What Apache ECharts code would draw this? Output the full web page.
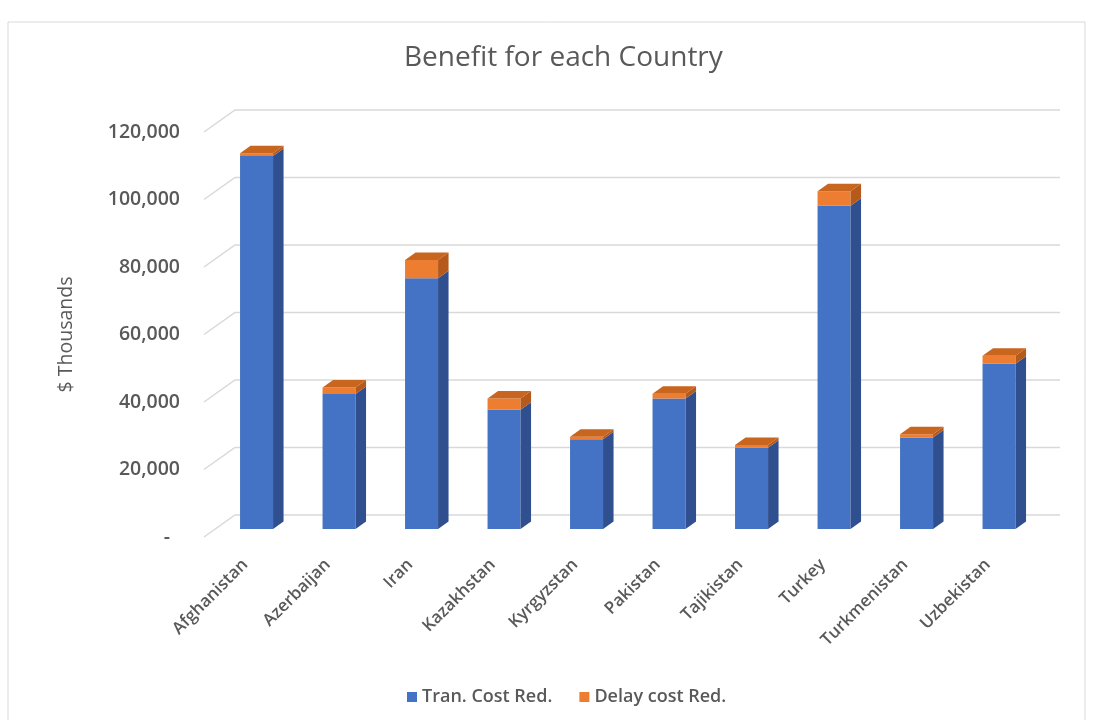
<!DOCTYPE html>
<html>
<head>
<meta charset="utf-8">
<script src="https://cdn.jsdelivr.net/npm/echarts@6/dist/echarts.min.js"></script>
<style>
html,body{margin:0;padding:0;background:#fff;}
#chart{width:1093px;height:720px;}
</style>
</head>
<body>
<div id="chart"></div>
<script>
// ---- Data (values in $ thousands) ----
const countries = ['Afghanistan','Azerbaijan','Iran','Kazakhstan','Kyrgyzstan','Pakistan','Tajikistan','Turkey','Turkmenistan','Uzbekistan'];
const tranCostRed = [110500, 40000, 74300, 35300, 26600, 38700, 24100, 95800, 27100, 49000];
const delayCostRed = [800, 1900, 5400, 3400, 700, 1400, 800, 4300, 1000, 2300];
const yTicks = [0, 20000, 40000, 60000, 80000, 100000, 120000];

// ---- 3D look (pixel offsets) ----
const WALL_DX = 31, WALL_DY = -22;     // front of floor -> back wall
const BAR_OX = 11.3, BAR_OY = -8;      // front of floor -> bar front face
const BAR_DX = 10.5, BAR_DY = -7.5;    // bar depth
const FONT = '"Open Sans", "Noto Sans", sans-serif';
const TXT = '#595959';

const chart = echarts.init(document.getElementById('chart'));

function gridRender(params, api) {
  const cs = params.coordSys;
  const v = yTicks[params.dataIndex];
  const y = api.coord([0, v])[1];
  return {
    type: 'polyline',
    shape: { points: [[cs.x, y], [cs.x + WALL_DX, y + WALL_DY], [cs.x + cs.width + WALL_DX, y + WALL_DY]] },
    style: { stroke: '#d9d9d9', lineWidth: 1.5, fill: null },
    silent: true
  };
}

function barRender(part) {
  return function (params, api) {
    const i = params.dataIndex;
    const base = api.coord([i, 0]);
    const w = api.size([1, 0])[0] * 0.4;
    const cx = base[0] + BAR_OX;
    const xl = cx - w / 2, xr = cx + w / 2;
    const lo = part === 'tran' ? 0 : tranCostRed[i];
    const hi = part === 'tran' ? tranCostRed[i] : tranCostRed[i] + delayCostRed[i];
    const yLo = api.coord([i, lo])[1] + BAR_OY;
    const yHi = api.coord([i, hi])[1] + BAR_OY;
    const front = part === 'tran' ? '#4472C4' : '#ED7D31';
    const side = part === 'tran' ? '#2F4F8E' : '#B55A1B';
    const top = part === 'tran' ? '#5B86D4' : '#C8651F';
    const children = [
      { type: 'rect', shape: { x: xl, y: yHi, width: w, height: yLo - yHi }, style: { fill: front } },
      { type: 'polygon', shape: { points: [[xr, yLo], [xr + BAR_DX, yLo + BAR_DY], [xr + BAR_DX, yHi + BAR_DY], [xr, yHi]] }, style: { fill: side } }
    ];
    if (part === 'delay') {
      children.push({ type: 'polygon', shape: { points: [[xl, yHi], [xr, yHi], [xr + BAR_DX, yHi + BAR_DY], [xl + BAR_DX, yHi + BAR_DY]] }, style: { fill: top } });
    }
    return { type: 'group', children: children };
  };
}

const option = {
  backgroundColor: '#ffffff',
  animation: false,
  title: {
    text: 'Benefit for each Country',
    left: 399,
    top: 39,
    textStyle: { fontFamily: FONT, fontSize: 28, fontWeight: 'normal', color: TXT }
  },
  legend: {
    top: 683,
    left: 402,
    itemWidth: 10,
    itemHeight: 10,
    itemGap: 27,
    icon: 'rect',
    textStyle: { fontFamily: FONT, fontSize: 18, fontWeight: 600, color: TXT },
    data: ['Tran. Cost Red.', 'Delay cost Red.']
  },
  graphic: [{
    type: 'rect',
    shape: { x: 8, y: 22, width: 1077, height: 710 },
    style: { fill: null, stroke: '#d9d9d9', lineWidth: 1 },
    silent: true, z: -10
  }],
  grid: { left: 204, right: 64, top: 132, bottom: 183 },
  xAxis: {
    type: 'category',
    data: countries,
    axisLine: { show: false },
    axisTick: { show: false },
    axisLabel: {
      rotate: 45,
      interval: 0,
      margin: 25,
      fontFamily: FONT, fontSize: 17, fontWeight: 600, color: TXT
    }
  },
  yAxis: {
    type: 'value',
    min: 0, max: 120000, interval: 20000,
    name: '$ Thousands',
    nameLocation: 'middle',
    nameGap: 128,
    nameRotate: 90,
    nameTextStyle: { fontFamily: FONT, fontSize: 19.5, color: TXT },
    axisLine: { show: false },
    axisTick: { show: false },
    splitLine: { show: false },
    axisLabel: {
      margin: 24,
      fontFamily: FONT, fontSize: 19.5, fontWeight: 600, color: TXT,
      formatter: function (v) { return v === 0 ? '{d|-}' : v.toLocaleString('en-US'); },
      rich: { d: { fontFamily: FONT, fontSize: 19.5, fontWeight: 600, color: TXT, padding: [0, 10, 0, 0] } }
    }
  },
  series: [
    {
      name: 'gridlines', type: 'custom', silent: true, z: 1,
      data: yTicks.map(function (v) { return [0, v]; }),
      renderItem: gridRender
    },
    {
      name: 'Tran. Cost Red.', type: 'custom', z: 2,
      itemStyle: { color: '#4472C4' },
      data: tranCostRed.map(function (v, i) { return [i, v]; }),
      renderItem: barRender('tran')
    },
    {
      name: 'Delay cost Red.', type: 'custom', z: 3,
      itemStyle: { color: '#ED7D31' },
      data: delayCostRed.map(function (v, i) { return [i, tranCostRed[i] + v]; }),
      renderItem: barRender('delay')
    }
  ]
};
chart.setOption(option);
</script>
</body>
</html>
